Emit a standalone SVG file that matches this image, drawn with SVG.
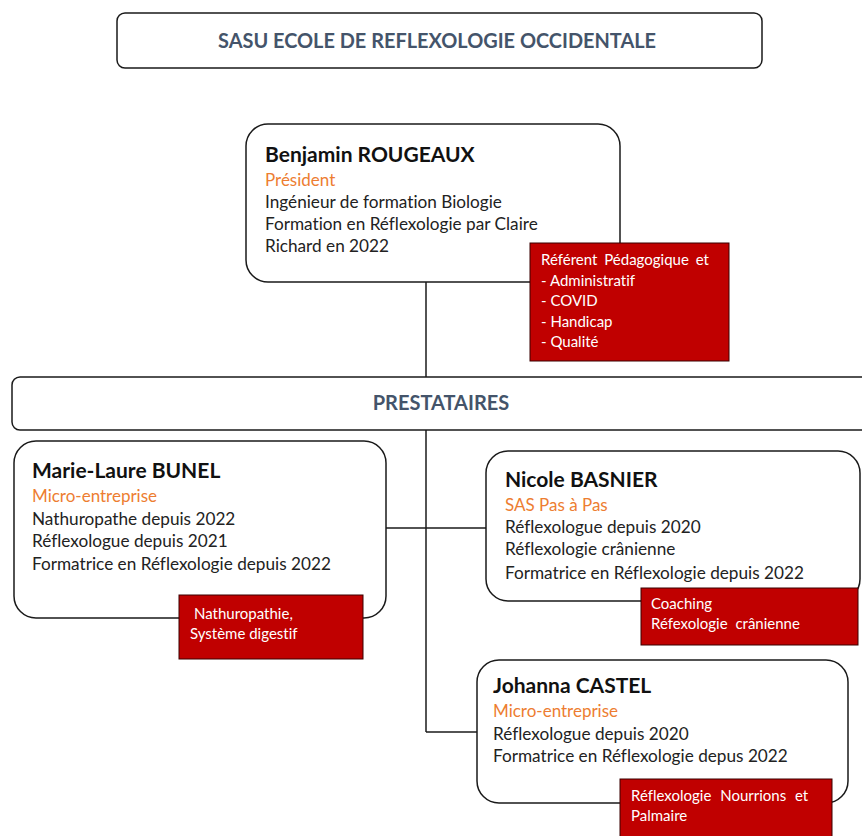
<svg xmlns="http://www.w3.org/2000/svg" width="862" height="836" viewBox="0 0 862 836">
<style>
text{font-variant-ligatures:none}
.box{fill:#fff;stroke:#1a1a1a;stroke-width:1.5}
.tag{fill:#C00000;stroke:#3a0000;stroke-width:1}
.hdr{font-family:Lato,"Open Sans","Liberation Sans",sans-serif;font-weight:bold;font-size:20px;fill:#44546A}
.name{font-family:Lato,"Open Sans","Liberation Sans",sans-serif;font-weight:bold;font-size:21px;fill:#111}
.org{font-family:Lato,"Open Sans","Liberation Sans",sans-serif;font-size:17px;fill:#ED7D31}
.txt{font-family:Lato,"Open Sans","Liberation Sans",sans-serif;font-size:17.2px;fill:#222}
.wt{font-family:Lato,"Open Sans","Liberation Sans",sans-serif;font-size:15px;fill:#fff}
.ln{stroke:#1a1a1a;stroke-width:1.5;fill:none}
</style>
<rect width="862" height="836" fill="#fff"/>
<g id="connectors">
<line class="ln" x1="426" y1="282" x2="426" y2="377"/>
<line class="ln" x1="426" y1="430" x2="426" y2="732"/>
<line class="ln" x1="386" y1="528" x2="486" y2="528"/>
<line class="ln" x1="426" y1="732" x2="477" y2="732"/>
</g>
<g id="title">
<rect class="box" x="117" y="13" width="645" height="55" rx="8"/>
<text class="hdr" x="218" y="48" textLength="438" lengthAdjust="spacingAndGlyphs">SASU ECOLE DE REFLEXOLOGIE OCCIDENTALE</text>
</g>
<g id="benjamin">
<rect class="box" x="246" y="124" width="374" height="158" rx="22"/>
<text class="name" x="265" y="162">Benjamin ROUGEAUX</text>
<text class="org" x="265" y="186">Président</text>
<text class="txt" x="265" y="208">Ingénieur de formation Biologie</text>
<text class="txt" x="265" y="230">Formation en Réflexologie par Claire</text>
<text class="txt" x="265" y="252">Richard en 2022</text>
</g>
<g id="benjamin-role">
<rect class="tag" x="530" y="243" width="199" height="118"/>
<text class="wt" x="541" y="265" word-spacing="3">Référent Pédagogique et</text>
<text class="wt" x="541" y="286">- Administratif</text>
<text class="wt" x="541" y="306">- COVID</text>
<text class="wt" x="541" y="327">- Handicap</text>
<text class="wt" x="541" y="347">- Qualité</text>
</g>
<g id="prestataires">
<rect class="box" x="12" y="377" width="870" height="53" rx="8"/>
<text class="hdr" x="441" y="410" text-anchor="middle">PRESTATAIRES</text>
</g>
<g id="marie">
<rect class="box" x="14" y="441" width="372" height="177" rx="22"/>
<text class="name" x="32" y="478">Marie-Laure BUNEL</text>
<text class="org" x="32" y="502">Micro-entreprise</text>
<text class="txt" x="32" y="525">Nathuropathe depuis 2022</text>
<text class="txt" x="32" y="547">Réflexologue depuis 2021</text>
<text class="txt" x="32" y="570">Formatrice en Réflexologie depuis 2022</text>
</g>
<g id="marie-role">
<rect class="tag" x="179" y="595" width="184" height="64"/>
<text class="wt" x="194" y="619">Nathuropathie,</text>
<text class="wt" x="190" y="639">Système digestif</text>
</g>
<g id="nicole">
<rect class="box" x="486" y="451" width="374" height="150" rx="22"/>
<text class="name" x="505" y="487">Nicole BASNIER</text>
<text class="org" x="505" y="511">SAS Pas à Pas</text>
<text class="txt" x="505" y="533">Réflexologue depuis 2020</text>
<text class="txt" x="505" y="555">Réflexologie crânienne</text>
<text class="txt" x="505" y="579">Formatrice en Réflexologie depuis 2022</text>
</g>
<g id="nicole-role">
<rect class="tag" x="641" y="588" width="217" height="57"/>
<text class="wt" x="651" y="609">Coaching</text>
<text class="wt" x="651" y="629" word-spacing="4">Réfexologie crânienne</text>
</g>
<g id="johanna">
<rect class="box" x="477" y="660" width="371" height="143" rx="22"/>
<text class="name" x="493" y="693">Johanna CASTEL</text>
<text class="org" x="493" y="717">Micro-entreprise</text>
<text class="txt" x="493" y="740">Réflexologue depuis 2020</text>
<text class="txt" x="493" y="762">Formatrice en Réflexologie depus 2022</text>
</g>
<g id="johanna-role">
<rect class="tag" x="620" y="779" width="212" height="62"/>
<text class="wt" x="631" y="801" word-spacing="5">Réflexologie Nourrions et</text>
<text class="wt" x="631" y="821">Palmaire</text>
</g>
</svg>
